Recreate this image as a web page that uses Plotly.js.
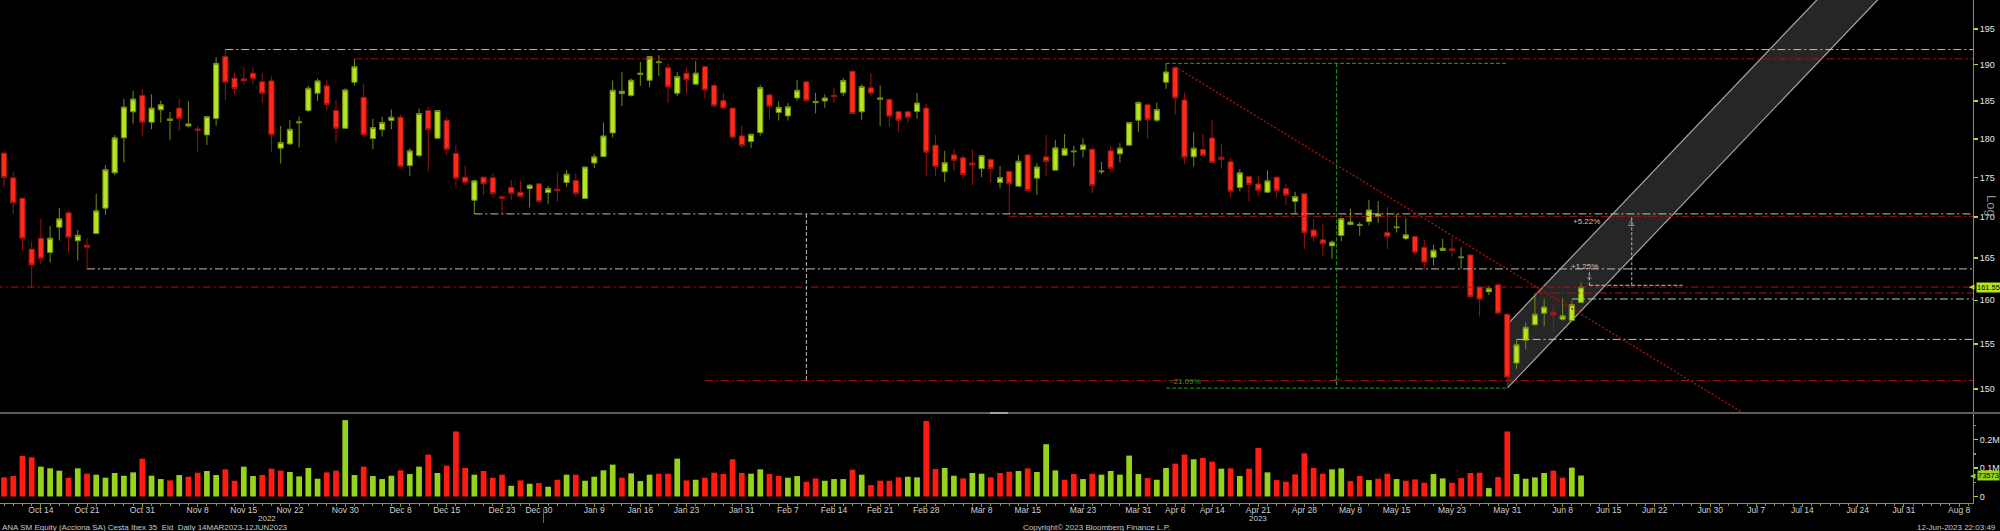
<!DOCTYPE html>
<html>
<head>
<meta charset="utf-8">
<script src="https://cdn.plot.ly/plotly-3.0.1.min.js"></script>
<style>
html,body{margin:0;padding:0;background:#000;overflow:hidden;}
#chart{width:2000px;height:531px;}
</style>
</head>
<body>
<div id="chart"></div>
<script>
// ---------------- data ----------------
const openP = [
178.12,174.95,172.36,166.08,167.41,165.67,168.75,170.54,167.09,166.56,
167.98,171.12,175.58,180.12,183.57,185.76,182.19,183.84,182.41,184.07,
181.69,181.29,180.51,182.67,191.12,188.13,188.04,188.82,187.63,187.76,
178.77,179.33,182.10,183.75,186.08,187.08,183.75,181.38,187.58,185.53,
180.03,181.20,182.41,182.85,176.51,177.81,183.75,180.07,182.45,178.07,
175.03,172.11,175.03,174.95,172.57,173.72,173.12,173.59,174.18,173.08,
173.50,174.35,174.61,172.32,176.85,177.68,180.77,186.04,185.76,188.64,
187.85,190.27,189.58,186.08,188.82,187.31,189.72,187.13,185.07,184.07,
180.38,179.64,180.81,185.85,183.48,183.03,185.44,187.63,184.80,185.03,
185.80,186.13,189.09,183.57,186.81,185.26,185.26,183.61,183.57,183.61,
184.07,179.16,175.71,177.90,177.51,176.85,176.12,177.29,174.35,175.75,
173.88,177.90,174.90,177.64,175.92,177.85,178.29,178.59,178.64,175.71,
178.42,178.03,179.16,182.45,184.52,182.45,187.58,189.58,185.17,177.64,
178.60,180.10,177.60,177.00,173.72,175.12,174.17,173.12,175.03,173.59,
171.95,172.92,168.40,167.21,166.48,167.74,169.07,168.98,169.44,170.07,
168.11,168.69,167.37,167.62,166.31,165.09,165.91,166.11,165.05,165.38,
161.57,160.99,161.81,158.38,152.84,155.41,157.16,158.50,158.57,157.80,
157.65,159.74];
const highP = [
178.30,175.71,172.40,167.00,169.79,168.92,171.16,170.71,168.42,167.41,
172.91,176.55,180.46,185.30,186.40,186.63,185.94,185.07,183.57,185.30,
184.98,181.69,183.03,191.01,192.15,188.87,189.68,189.58,188.82,188.36,
181.69,182.45,182.94,187.13,188.09,187.90,185.17,186.76,190.78,187.36,
182.63,182.89,183.89,183.20,178.77,184.02,184.25,183.80,182.85,179.20,
176.46,174.69,175.11,175.54,172.60,174.69,174.56,174.18,174.20,173.93,
175.63,175.97,175.54,176.38,178.03,182.14,187.81,188.96,188.09,190.37,
191.17,191.30,190.18,188.96,189.63,190.51,189.81,187.36,186.08,184.10,
181.69,180.60,187.22,185.94,184.98,184.75,187.90,187.67,186.13,185.94,
186.76,188.13,189.10,187.31,188.82,187.13,185.30,183.66,183.60,186.13,
184.61,180.51,178.42,178.64,177.90,178.55,177.85,177.46,176.46,175.80,
177.85,177.94,176.81,180.51,179.85,180.64,179.07,180.07,178.70,176.98,
179.07,179.42,182.23,184.98,184.60,184.84,190.18,189.72,186.17,180.85,
180.60,182.50,179.40,177.50,176.06,175.20,175.20,175.89,175.07,174.17,
173.17,172.96,169.73,169.23,167.13,169.86,171.03,169.40,172.17,172.00,
171.24,170.40,169.86,167.66,167.25,166.60,167.37,167.50,166.31,165.40,
161.60,161.69,161.89,158.50,155.45,157.42,160.76,160.17,159.35,160.25,
159.97,162.08];
const lowP = [
173.84,170.37,165.92,161.40,164.26,164.46,167.13,165.67,164.70,163.71,
167.98,170.29,175.28,176.90,182.01,180.38,181.25,182.14,179.85,181.07,
181.51,178.33,179.20,181.73,185.17,185.90,187.17,187.31,184.80,178.33,
176.77,179.20,178.85,183.57,185.03,183.80,179.51,181.29,187.13,180.16,
178.64,180.29,181.25,176.30,175.21,177.55,175.75,180.03,177.90,173.84,
173.97,170.37,172.78,172.49,170.50,172.15,172.44,171.20,171.82,171.61,
171.95,173.84,172.57,172.28,176.16,177.64,180.16,184.34,185.62,187.08,
186.90,188.45,184.80,185.67,186.04,187.27,185.35,184.16,183.93,180.10,
178.77,178.77,180.42,182.67,182.41,182.41,185.07,185.03,183.35,184.11,
184.80,185.71,183.30,182.50,185.62,181.69,181.56,180.85,182.19,182.67,
175.16,175.21,174.43,175.88,174.78,174.05,175.03,174.35,173.59,170.37,
173.84,173.29,172.78,175.16,175.88,177.81,176.38,177.55,172.99,175.41,
175.63,176.90,179.07,180.94,180.03,182.19,186.67,183.26,176.72,176.38,
177.70,176.80,176.10,172.40,173.25,171.95,172.67,173.04,172.50,171.53,
170.40,166.11,166.97,165.17,164.89,167.01,169.02,167.70,168.98,169.31,
166.11,168.11,167.17,165.38,163.59,164.13,165.85,165.17,163.67,160.35,
158.11,160.60,158.46,150.07,152.21,154.40,157.12,157.00,156.30,157.65,
157.60,159.70];
const closeP = [
174.99,171.78,167.37,164.18,164.94,167.41,169.79,167.49,167.77,166.32,
170.79,176.00,180.12,184.21,185.30,182.19,184.07,184.52,182.63,182.67,
181.96,181.12,182.94,190.18,187.58,186.72,187.76,188.04,186.08,180.51,
179.51,181.25,182.23,186.76,187.76,184.57,181.38,186.53,189.72,180.51,
181.47,182.14,182.85,176.38,178.42,183.35,181.20,183.75,178.59,174.90,
174.35,174.56,174.18,172.95,172.32,172.95,172.57,174.01,171.95,173.59,
173.29,175.41,172.95,176.33,177.64,180.38,186.49,186.35,187.85,188.82,
191.12,190.37,186.94,188.36,187.90,188.82,186.53,184.39,184.07,180.20,
179.12,180.59,186.85,184.30,184.18,184.24,186.49,185.07,184.98,185.44,
185.62,187.81,183.35,186.99,186.08,185.44,182.98,182.45,182.80,184.75,
178.25,176.38,176.90,177.20,175.37,176.59,177.81,176.12,174.99,174.18,
177.07,173.33,176.33,177.03,178.81,178.72,178.38,179.20,173.97,175.80,
176.16,178.77,182.14,184.84,182.50,183.89,188.99,185.44,177.55,178.77,
177.80,176.90,177.30,173.20,175.59,174.09,173.37,174.56,173.30,172.75,
172.58,168.07,167.58,166.72,166.93,169.82,169.40,169.07,170.90,170.40,
167.58,168.78,167.82,165.70,164.49,165.95,166.19,165.91,165.13,160.41,
160.13,161.38,158.50,151.28,154.88,156.89,158.38,159.23,158.30,158.19,
159.50,161.55];
const volume = [
67100,71800,142400,137600,104700,98800,90600,65900,98800,80000,
76500,65900,82400,72900,84700,132900,72900,61200,56500,75300,
69400,83500,89400,75300,95300,55300,104700,71800,75300,97600,
90600,85900,70600,100000,62400,84700,90600,268000,75300,104700,
71800,61200,72900,91800,78800,104700,147100,82400,108200,228200,
100000,76500,89400,65900,76500,37600,56500,44700,47100,34100,
58800,76500,76500,55300,69400,91800,111800,65900,81200,54100,
76500,80000,80000,132900,56500,58800,65900,83500,78800,130600,
82400,80000,95300,78800,71800,65900,71800,51800,63500,55300,
61200,61200,94100,76500,40000,55300,55300,67100,69400,67100,
265000,96500,100000,72900,63500,82400,80000,67100,82400,87100,
89400,98800,85900,183500,91800,58800,78800,61200,80000,76500,
89400,76500,143500,78800,64700,58800,100000,115300,147100,130600,
135300,122400,97600,98800,71800,97600,170600,84700,57600,51800,
77600,151800,100000,80000,95300,98800,54100,71800,57600,62400,
80000,61200,55300,60000,48200,78800,63500,48200,64700,82400,
83500,29400,68200,228200,78800,62400,67100,82400,90600,65900,
101200,73573];

const firstSession = '2022-10-10';
const holidays = ['2022-12-26','2023-04-07','2023-04-10','2023-05-01'];
const tickDates = ['2022-10-14','2022-10-21','2022-10-31','2022-11-08','2022-11-15','2022-11-22',
  '2022-11-30','2022-12-08','2022-12-15','2022-12-23','2022-12-30','2023-01-09','2023-01-16',
  '2023-01-23','2023-01-31','2023-02-07','2023-02-14','2023-02-21','2023-02-28','2023-03-08',
  '2023-03-15','2023-03-23','2023-03-31','2023-04-06','2023-04-14','2023-04-21','2023-04-28',
  '2023-05-08','2023-05-15','2023-05-23','2023-05-31','2023-06-08','2023-06-15','2023-06-22',
  '2023-06-30','2023-07-07','2023-07-14','2023-07-24','2023-07-31','2023-08-08'];
const monthNames = ['Jan','Feb','Mar','Apr','May','Jun','Jul','Aug','Sep','Oct','Nov','Dec'];
const yearLabels = ['2022','2023'];
const yearLabelSession = [28.5, 136];
const yearBreakSession = 58.5;
const priceTicks = [150,155,160,165,170,175,180,185,190,195];
const volTicks = [0,100000,200000];
const volTickText = ['0','0.1M','0.2M'];

// drawn levels (price, session where the line starts, white / red)
const levelPrice = [192.1, 190.8, 170.4, 170.1, 163.7, 161.55, 160.85, 160.15, 155.5, 150.9];
const levelStart = [24, 38, 51, 109, 9, -1, 166, 170, 164, 76];
const levelKind  = ['w','r','w','r','w','r','r','w','w','r'];
// falling trend line: start session, start price, log-slope per session
const trendStart = [127, 189.7];
const trendSlope = -0.0041;
// rising channel
const channelStart = 163, channelLow = 150.07, channelHigh = 157.2, channelSlope = 0.00705;
// drawdown measurement
const ddHigh = 190.18, ddLow = 150.07, ddFrom = 126, ddTo = 163, ddAt = 144.5, ddText = '-21.09%';
// white vertical marker
const markSession = 87, markTop = 170.4, markBottom = 150.9;
// upside measurements
const upBase = 161.76, upFrom = 171.9, upTo = 182;
const upAt = [171.9, 176.5];
const upTarget = [163.6, 170.2];
const upText = ['+1.25%', '+5.22%'];
const upTextAt = [173.1, 173.3];
const upTextPrice = [163.95, 169.45];
const lastPrice = 161.55, lastVolume = 73573;
const footLeft = 'ANA SM Equity (Acciona SA) Cesta Ibex 35_Eid\u00a0\u00a0Daily 14MAR2023-12JUN2023';
const footMid = 'Copyright\u00a9 2023 Bloomberg Finance L.P.';
const footRight = '12-Jun-2023 22:03:49';

// ---------------- build ----------------
const sessions = [];
(function () {
  const d = new Date(firstSession + 'T00:00:00Z');
  while (sessions.length < 260) {
    const s = d.toISOString().slice(0, 10);
    const wd = d.getUTCDay();
    if (wd !== 0 && wd !== 6 && holidays.indexOf(s) < 0) sessions.push(s);
    d.setUTCDate(d.getUTCDate() + 1);
  }
})();
const xIdx = closeP.map((_, i) => i);
const tickvals = tickDates.map(s => sessions.indexOf(s));
const ticktext = tickDates.map(s => monthNames[+s.slice(5, 7) - 1] + ' ' + (+s.slice(8)));

const FONT = 'Liberation Sans Narrow, Arial Narrow, Liberation Sans, Arial, sans-serif';
const OLIVE = '#8d9a22';
const TICKC = '#b9d433';
const GREEN = '#b5e61d', RED = '#ff2a1a';
const WHITE_L = '#bdbdbd', RED_L = '#b01212', GREEN_L = '#22a022';
const DASHDOT = '8px,3px,2px,3px';
const X_MAX = 213.5, X_MIN = -0.434;
const PLOT_H = 503, PLOT_W = 1973;
const yp = px => (PLOT_H - px) / PLOT_H;
const xp = px => px / PLOT_W;

const traces = [];
traces.push({
  type: 'candlestick', x: xIdx, open: openP, high: highP, low: lowP, close: closeP,
  xaxis: 'x', yaxis: 'y', hoverinfo: 'none', whiskerwidth: 0,
  increasing: {fillcolor: GREEN, line: {color: '#6f8d12', width: 1}},
  decreasing: {fillcolor: RED, line: {color: '#9a1410', width: 1}}
});
const volColors = volume.map((v, i) => {
  const up = i === 0 ? closeP[0] >= openP[0] : closeP[i] >= closeP[i - 1];
  return up ? '#95d41a' : '#ff1a12';
});
traces.push({
  type: 'bar', x: xIdx, y: volume, xaxis: 'x', yaxis: 'y2', hoverinfo: 'none',
  marker: {color: volColors, line: {width: 0}}
});
function seg(x0, y0, x1, y1, color, dash, width) {
  traces.push({type: 'scatter', mode: 'lines', x: [x0, x1], y: [y0, y1], xaxis: 'x', yaxis: 'y',
    hoverinfo: 'none', line: {color: color, dash: dash, width: width || 1}});
}
levelPrice.forEach((p, i) => {
  seg(levelStart[i], p, X_MAX + 1, p, levelKind[i] === 'w' ? WHITE_L : RED_L, DASHDOT, 1);
});
const trendEnd = 205;
seg(trendStart[0], trendStart[1], trendEnd, trendStart[1] * Math.exp(trendSlope * (trendEnd - trendStart[0])), '#a81212', '2px,2px', 1.4);
seg(ddFrom, ddHigh, ddTo, ddHigh, GREEN_L, '4px,2px', 1);
seg(ddFrom, ddLow, ddTo, ddLow, GREEN_L, '4px,2px', 1);
seg(ddAt, ddHigh, ddAt, ddLow, GREEN_L, '4px,2px', 1);
seg(markSession, markTop, markSession, markBottom, WHITE_L, '4px,2px', 1);
seg(upFrom, upBase, upTo, upBase, WHITE_L, '4px,2px', 1);
upAt.forEach((x, i) => seg(x, upBase, x, upTarget[i], WHITE_L, '3px,2px', 1));

// channel as shapes beneath the candles
const chEnd = 220;
const g = Math.exp(channelSlope * (chEnd - channelStart));
const shapes = [
  {type: 'path', xref: 'x', yref: 'y', layer: 'below',
   path: 'M' + channelStart + ',' + channelLow + ' L' + chEnd + ',' + (channelLow * g) +
         ' L' + chEnd + ',' + (channelHigh * g) + ' L' + channelStart + ',' + channelHigh + ' Z',
   fillcolor: '#262626', line: {width: 0}},
  {type: 'line', xref: 'x', yref: 'y', layer: 'below', x0: channelStart, y0: channelLow, x1: chEnd, y1: channelLow * g,
   line: {color: '#a8a8a8', width: 1.2}},
  {type: 'line', xref: 'x', yref: 'y', layer: 'below', x0: channelStart, y0: channelHigh, x1: chEnd, y1: channelHigh * g,
   line: {color: '#a8a8a8', width: 1.2}},
  // panel separator
  {type: 'line', xref: 'paper', yref: 'paper', x0: 0, x1: 2000 / PLOT_W, y0: yp(413), y1: yp(413),
   line: {color: '#5c5c5c', width: 2}},
  {type: 'line', xref: 'paper', yref: 'paper', x0: xp(990), x1: xp(1008), y0: yp(413), y1: yp(413),
   line: {color: '#a0a0a0', width: 2}},
  // year break mark
  {type: 'line', xref: 'x', yref: 'paper', x0: yearBreakSession, x1: yearBreakSession, y0: yp(509), y1: yp(523),
   line: {color: '#6b6b45', width: 1}}
];

const L = Math.log10;
const annotations = [];
function ann(o) { annotations.push(Object.assign({showarrow: false, font: {family: FONT, size: 8, color: '#c8c8c8'}}, o)); }
yearLabels.forEach((t, i) => ann({xref: 'x', yref: 'paper', x: yearLabelSession[i], y: yp(518.5), text: t,
  xanchor: 'center', yanchor: 'middle', font: {family: FONT, size: 8, color: '#cfcfcf'}}));
ann({xref: 'paper', yref: 'paper', x: 0, y: yp(527), text: footLeft, xanchor: 'left', yanchor: 'middle'});
ann({xref: 'paper', yref: 'paper', x: xp(1021), y: yp(527), text: footMid, xanchor: 'left', yanchor: 'middle'});
ann({xref: 'paper', yref: 'paper', x: xp(1998), y: yp(527), text: footRight, xanchor: 'right', yanchor: 'middle'});
ann({xref: 'paper', yref: 'paper', x: xp(1992), y: yp(206), text: 'Log', textangle: 90, xanchor: 'center', yanchor: 'middle',
  font: {family: 'Liberation Sans, Arial, sans-serif', size: 13, color: '#8a8a8a'}});
// last price / last volume tags
ann({xref: 'paper', yref: 'y', x: xp(1975.5), y: L(lastPrice), text: lastPrice.toFixed(2), xanchor: 'left', yanchor: 'middle',
  bgcolor: GREEN, borderpad: 0, font: {family: FONT, size: 7.5, color: '#000'}});
ann({xref: 'paper', yref: 'y', x: xp(1976.5), y: L(lastPrice), text: '\u25C0', xanchor: 'right', yanchor: 'middle',
  font: {family: 'DejaVu Sans', size: 7, color: GREEN}});
ann({xref: 'paper', yref: 'y2', x: xp(1977), y: lastVolume, text: String(lastVolume), xanchor: 'left', yanchor: 'middle',
  bgcolor: '#95d41a', borderpad: 0, font: {family: FONT, size: 7.5, color: '#000'}});
ann({xref: 'paper', yref: 'y2', x: xp(1978), y: lastVolume, text: '\u25C0', xanchor: 'right', yanchor: 'middle',
  font: {family: 'DejaVu Sans', size: 7, color: '#95d41a'}});
// measurement labels
ann({xref: 'x', yref: 'y', x: ddFrom + 0.3, y: L(ddLow), text: ddText, xanchor: 'left', yanchor: 'bottom',
  font: {family: FONT, size: 8, color: GREEN_L}});
ann({xref: 'x', yref: 'y', x: ddAt, y: L(ddLow), text: '\u25BD', xanchor: 'center', yanchor: 'bottom',
  font: {family: 'DejaVu Sans', size: 7, color: GREEN_L}});
upText.forEach((t, i) => ann({xref: 'x', yref: 'y', x: upTextAt[i], y: L(upTextPrice[i]), text: t,
  xanchor: 'right', yanchor: 'middle'}));
upAt.forEach((x, i) => ann({xref: 'x', yref: 'y', x: x, y: L(upTarget[i]), text: '\u25B3', xanchor: 'center', yanchor: 'top',
  font: {family: 'DejaVu Sans', size: i === 0 ? 6 : 8, color: '#c8c8c8'}}));

const layout = {
  width: 2000, height: 531,
  paper_bgcolor: '#000', plot_bgcolor: '#000',
  margin: {l: 0, r: 27, t: 0, b: 28, pad: 0, autoexpand: false},
  showlegend: false, boxgap: 0.2, bargap: 0.38, hovermode: false,
  font: {family: FONT, size: 9, color: '#d0d0d0'},
  xaxis: {range: [X_MIN, X_MAX], anchor: 'y2', showgrid: false, zeroline: false,
    showline: true, linecolor: OLIVE, linewidth: 1,
    tickmode: 'array', tickvals: tickvals, ticktext: ticktext,
    ticks: 'outside', ticklen: 3, tickcolor: OLIVE, tickangle: 0, ticklabelstandoff: -4,
    tickfont: {family: FONT, size: 8.5, color: '#cfcfcf'},
    minor: {tickmode: 'linear', tick0: 0, dtick: 1, ticks: 'outside', ticklen: 2, tickcolor: OLIVE},
    rangeslider: {visible: false}, fixedrange: true},
  yaxis: {type: 'log', domain: [yp(412), 1], anchor: 'x', side: 'right',
    range: [L(147.48), L(199.17)], tickmode: 'array', tickvals: priceTicks, ticktext: priceTicks.map(String),
    ticks: 'outside', ticklen: 4, tickwidth: 1.5, tickcolor: TICKC,
    showline: true, linecolor: OLIVE, linewidth: 1, showgrid: false, zeroline: false,
    tickfont: {family: FONT, size: 9, color: '#e6e6e6'}, fixedrange: true},
  yaxis2: {domain: [0, yp(414)], anchor: 'x', side: 'right',
    range: [-22800, 289500], tickmode: 'array', tickvals: volTicks, ticktext: volTickText,
    ticks: 'outside', ticklen: 4, tickwidth: 1.5, tickcolor: TICKC,
    showline: true, linecolor: OLIVE, linewidth: 1, showgrid: false, zeroline: false,
    minor: {tickmode: 'linear', tick0: 0, dtick: 50000, ticks: 'outside', ticklen: 2, tickcolor: OLIVE},
    tickfont: {family: FONT, size: 9, color: '#e6e6e6'}, fixedrange: true},
  shapes: shapes,
  annotations: annotations
};

Plotly.newPlot('chart', traces, layout, {displayModeBar: false, staticPlot: true});
</script>
</body>
</html>
